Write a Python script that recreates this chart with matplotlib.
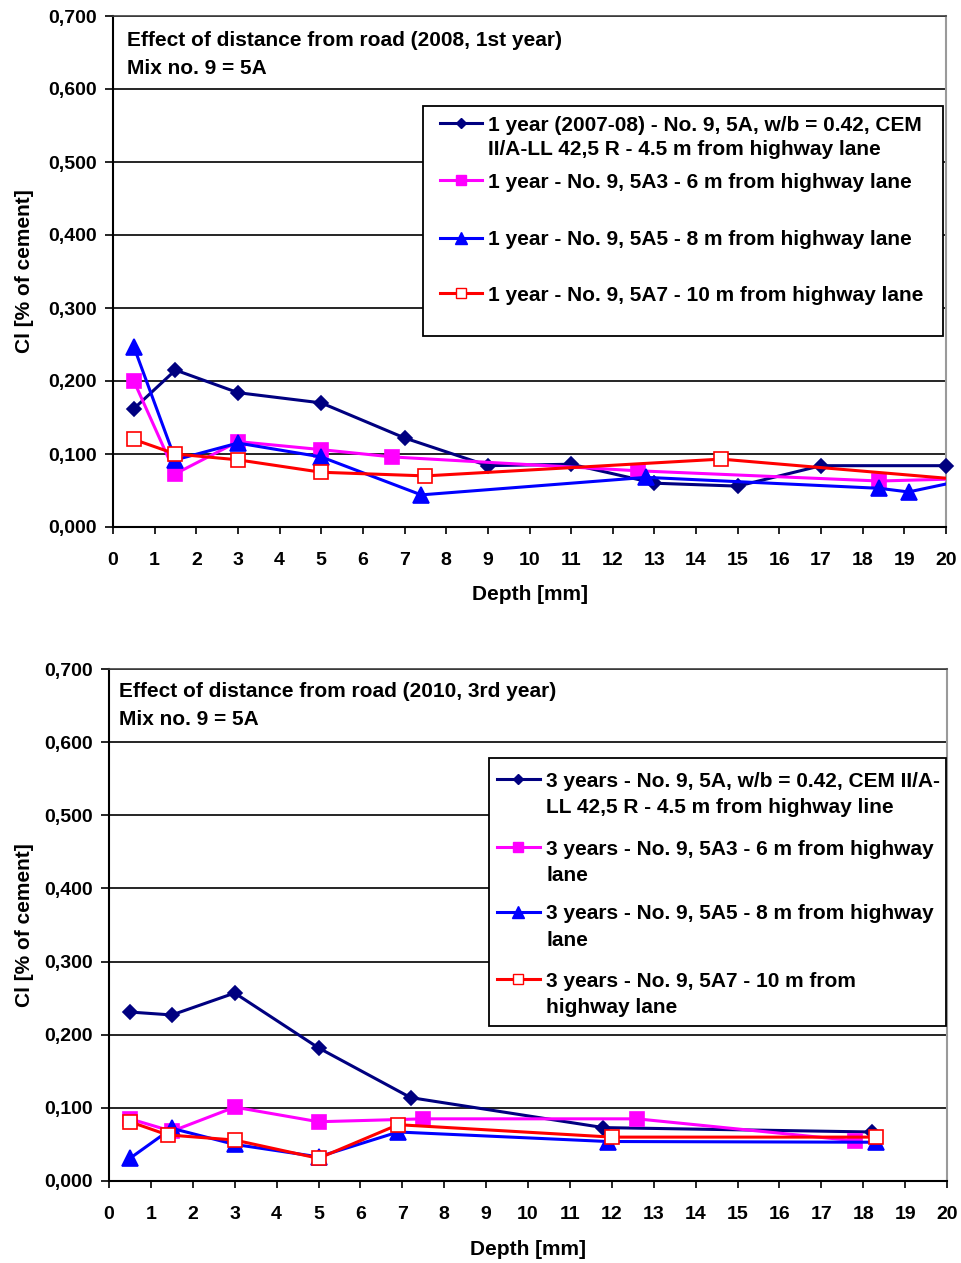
import matplotlib
matplotlib.use("Agg")
import matplotlib.pyplot as plt
from matplotlib.lines import Line2D
from matplotlib.patches import Rectangle
from matplotlib.ticker import FuncFormatter

plt.rcParams['font.family'] = ['Liberation Sans', 'DejaVu Sans']
plt.rcParams['font.weight'] = 'bold'

# ---- 2008, 1st year: chloride content vs depth ----
y1_5a_depth = [0.5, 1.5, 3, 5, 7, 9, 11, 13, 15, 17, 20]
y1_5a_cl = [0.162, 0.215, 0.184, 0.170, 0.122, 0.084, 0.086, 0.060, 0.056, 0.084, 0.084]
y1_5a3_depth = [0.5, 1.5, 3, 5, 6.7, 12.6, 18.4, 21]
y1_5a3_cl = [0.200, 0.073, 0.117, 0.106, 0.096, 0.077, 0.063, 0.067]
y1_5a5_depth = [0.5, 1.5, 3, 5, 7.4, 12.8, 18.4, 19.1, 21]
y1_5a5_cl = [0.247, 0.092, 0.115, 0.096, 0.044, 0.068, 0.053, 0.048, 0.071]
y1_5a7_depth = [0.5, 1.5, 3, 5, 7.5, 14.6, 21]
y1_5a7_cl = [0.120, 0.100, 0.092, 0.075, 0.070, 0.093, 0.062]

y1_labels = [
    "1 year (2007-08) - No. 9, 5A, w/b = 0.42, CEM\nII/A-LL 42,5 R - 4.5 m from highway lane",
    "1 year - No. 9, 5A3 - 6 m from highway lane",
    "1 year - No. 9, 5A5 - 8 m from highway lane",
    "1 year - No. 9, 5A7 - 10 m from highway lane",
]
y1_title = "Effect of distance from road (2008, 1st year)\nMix no. 9 = 5A"

# ---- 2010, 3rd year ----
y3_5a_depth = [0.5, 1.5, 3, 5, 7.2, 11.8, 18.2]
y3_5a_cl = [0.231, 0.227, 0.257, 0.182, 0.114, 0.073, 0.067]
y3_5a3_depth = [0.5, 1.5, 3, 5, 7.5, 12.6, 17.8]
y3_5a3_cl = [0.085, 0.068, 0.101, 0.081, 0.085, 0.085, 0.055]
y3_5a5_depth = [0.5, 1.5, 3, 5, 6.9, 11.9, 18.3]
y3_5a5_cl = [0.031, 0.072, 0.050, 0.033, 0.067, 0.054, 0.053]
y3_5a7_depth = [0.5, 1.4, 3, 5, 6.9, 12.0, 18.3]
y3_5a7_cl = [0.081, 0.063, 0.056, 0.031, 0.077, 0.060, 0.060]

y3_labels = [
    "3 years - No. 9, 5A, w/b = 0.42, CEM II/A-\nLL 42,5 R - 4.5 m from highway line",
    "3 years - No. 9, 5A3 - 6 m from highway\nlane",
    "3 years - No. 9, 5A5 - 8 m from highway\nlane",
    "3 years - No. 9, 5A7 - 10 m from\nhighway lane",
]
y3_title = "Effect of distance from road (2010, 3rd year)\nMix no. 9 = 5A"

x_ticks = list(range(0, 21))
y_ticks = [0.0, 0.1, 0.2, 0.3, 0.4, 0.5, 0.6, 0.7]

# marker styles for the four sampling distances (4.5, 6, 8, 10 m)
STYLES = [
    dict(color="#000080", marker="D", mfc="#000080", mec="#000080", ms=7.2, key_ms=4.6),
    dict(color="#FF00FF", marker="s", mfc="#FF00FF", mec="#FF00FF", ms=9.6, key_ms=7.0),
    dict(color="#0000FF", marker="^", mfc="#0000FF", mec="#0000FF", ms=11.8, key_ms=8.5),
    dict(color="#FF0000", marker="s", mfc="white", mec="#FF0000", ms=10.0, key_ms=7.5),
]

TICK_FS = 14
LABEL_FS = 15
TEXT_FS = 15
KEY_FS = 15


def cl_fmt(v, _pos):
    return f"{v:.3f}".replace(".", ",")


def text_lines(ax, x, y, step, text, fontsize, zorder=13):
    # one Text per line so the line pitch is set explicitly
    for k, line in enumerate(text.split("\n")):
        ax.text(x, y - k * step, line, transform=ax.transAxes, ha="left",
                va="center_baseline", fontsize=fontsize, fontweight="bold",
                zorder=zorder)


def draw_key(ax, box, line_x, text_x, rows, step, labels):
    x0, y0, x1, y1 = box
    ax.add_patch(Rectangle((x0, y0), x1 - x0, y1 - y0, transform=ax.transAxes,
                           fc="white", ec="black", lw=1.3, zorder=10, clip_on=False))
    for y, label, st in zip(rows, labels, STYLES):
        ax.add_line(Line2D(line_x, [y, y], transform=ax.transAxes, color=st["color"],
                           lw=2.2, zorder=11, clip_on=False))
        ax.add_line(Line2D([(line_x[0] + line_x[1]) / 2], [y], transform=ax.transAxes,
                           marker=st["marker"], ms=st["key_ms"], mfc=st["mfc"],
                           mec=st["mec"], mew=1.0, ls="none", zorder=12, clip_on=False))
        text_lines(ax, text_x, y, step, label, KEY_FS)


def draw_panel(ax, series, labels, title, key_box, key_line_x, key_text_x, key_rows,
               key_step, title_x, title_y, title_step, ylabel_x, xlabel_y):
    for i, (d, c) in enumerate(series):
        st = STYLES[i]
        inside = max(d) <= 20
        ax.plot(d, c, color=st["color"], lw=2.2, marker=st["marker"], ms=st["ms"],
                mfc=st["mfc"], mec=st["mec"], mew=1.2, zorder=3 + i,
                clip_on=not inside)
    ax.set_xlim(0, 20)
    ax.set_ylim(0, 0.7)
    ax.set_xticks(x_ticks)
    ax.set_yticks(y_ticks)
    ax.yaxis.set_major_formatter(FuncFormatter(cl_fmt))
    ax.grid(axis="y", color="black", lw=1.2, zorder=1)
    ax.set_axisbelow(True)
    ax.tick_params(axis="x", direction="out", length=5, width=1.2, pad=13,
                   labelsize=TICK_FS, colors="black")
    ax.tick_params(axis="y", direction="out", length=6, width=1.2, pad=5.5,
                   labelsize=TICK_FS, colors="black")
    for lab in ax.get_xticklabels() + ax.get_yticklabels():
        lab.set_fontweight("bold")
    for side in ("left", "bottom"):
        ax.spines[side].set_color("black")
        ax.spines[side].set_linewidth(1.5)
    ax.spines["top"].set_color("#404040")
    ax.spines["top"].set_linewidth(1.2)
    ax.spines["right"].set_color("#9a9a9a")
    ax.spines["right"].set_linewidth(1.5)
    ax.set_xlabel("Depth [mm]", fontsize=LABEL_FS, fontweight="bold")
    ax.set_ylabel("Cl [% of cement]", fontsize=LABEL_FS, fontweight="bold")
    ax.xaxis.set_label_coords(0.5, xlabel_y)
    ax.yaxis.set_label_coords(ylabel_x, 0.5)
    text_lines(ax, title_x, title_y, title_step, title, TEXT_FS, zorder=2)
    draw_key(ax, key_box, key_line_x, key_text_x, key_rows, key_step, labels)


fig = plt.figure(figsize=(9.62, 12.63), dpi=100)
fig.patch.set_facecolor("white")

ax1 = fig.add_axes([113 / 962, 1 - 527 / 1263, 833 / 962, 511 / 1263])
ax2 = fig.add_axes([109 / 962, 1 - 1181 / 1263, 838 / 962, 512 / 1263])

draw_panel(
    ax1,
    [(y1_5a_depth, y1_5a_cl), (y1_5a3_depth, y1_5a3_cl),
     (y1_5a5_depth, y1_5a5_cl), (y1_5a7_depth, y1_5a7_cl)],
    y1_labels, y1_title,
    key_box=(0.372, 0.374, 0.9964, 0.824),
    key_line_x=(0.3926, 0.4430), key_text_x=0.450,
    key_rows=[0.7906, 0.679, 0.5656, 0.4579], key_step=0.0489,
    title_x=0.0168, title_y=0.955, title_step=0.053,
    ylabel_x=-0.0945, xlabel_y=-0.1135,
)

draw_panel(
    ax2,
    [(y3_5a_depth, y3_5a_cl), (y3_5a3_depth, y3_5a3_cl),
     (y3_5a5_depth, y3_5a5_cl), (y3_5a7_depth, y3_5a7_cl)],
    y3_labels, y3_title,
    key_box=(0.4535, 0.3027, 0.9988, 0.826),
    key_line_x=(0.463, 0.514), key_text_x=0.5215,
    key_rows=[0.785, 0.6523, 0.5254, 0.3945], key_step=0.0508,
    title_x=0.0119, title_y=0.959, title_step=0.053,
    ylabel_x=-0.0895, xlabel_y=-0.115,
)

fig.savefig("out.png", dpi=100, facecolor="white")
